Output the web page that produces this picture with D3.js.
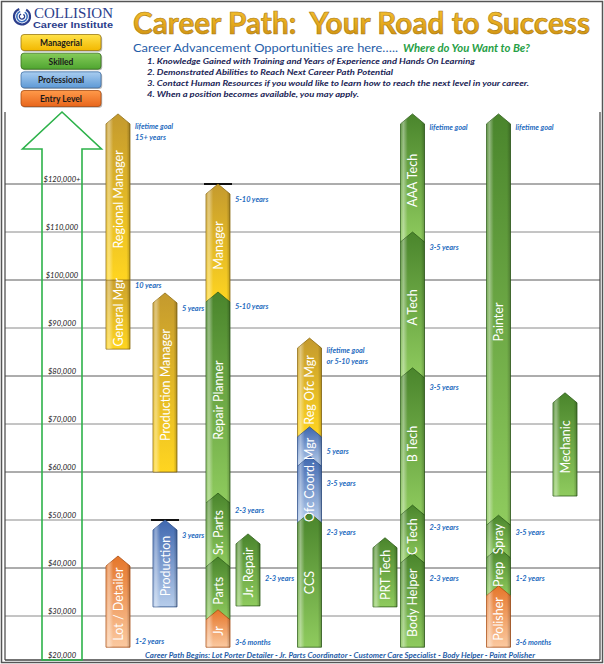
<!DOCTYPE html>
<html><head><meta charset="utf-8">
<script src="https://cdn.jsdelivr.net/npm/d3@7/dist/d3.min.js"></script>
<style>body{margin:0;background:#fff;} svg{display:block;}</style>
</head><body>
<svg id="c" width="604" height="664"></svg>
<script>
// ---------------- DATA ----------------
const levels = ["Managerial", "Skilled", "Professional", "Entry Level"];
const salaryTicks = [20000, 30000, 40000, 50000, 60000, 70000, 80000, 90000, 100000, 110000, 120000];
const tickLabels = ["$20,000", "$30,000", "$40,000", "$50,000", "$60,000", "$70,000", "$80,000", "$90,000", "$100,000", "$110,000", "$120,000+"];

const jobs      = ["General Mgr", "Regional Manager", "Production Manager", "Production", "Lot / Detailer",
                   "Manager", "Repair Planner", "Sr. Parts", "Parts", "Jr",
                   "Jr. Repair", "Reg Ofc Mgr", "Mgr", "Ofc Coord.", "CCS", "PRT Tech",
                   "AAA Tech", "A Tech", "B Tech", "C Tech", "Body Helper",
                   "Painter", "Spray", "Prep", "Polisher", "Mechanic"];
const jobLevel  = ["Managerial", "Managerial", "Managerial", "Professional", "Entry Level",
                   "Managerial", "Skilled", "Skilled", "Skilled", "Entry Level",
                   "Skilled", "Managerial", "Professional", "Professional", "Skilled", "Skilled",
                   "Skilled", "Skilled", "Skilled", "Skilled", "Skilled",
                   "Skilled", "Skilled", "Skilled", "Entry Level", "Skilled"];
const jobColumn = ["c1", "c1", "c2", "c2", "c1",
                   "c3", "c3", "c3", "c3", "c3",
                   "c4", "c5", "c5", "c5", "c5", "c6",
                   "c7", "c7", "c7", "c7", "c7",
                   "c8", "c8", "c8", "c8", "c9"];
const jobFrom   = [85600, 100000, 60000, 31900, 23500,
                   97500, 55600, 42300, 31300, 23500,
                   32100, 69400, 63300, 51500, 23500, 31900,
                   110000, 81700, 53100, 43100, 23500,
                   51000, 44200, 36300, 23500, 55000];
const jobTo     = [102000, 134600, 97300, 50000, 42500,
                   120000, 97500, 55600, 42300, 31300,
                   47100, 87900, 69400, 63300, 51500, 46300,
                   134600, 110000, 81700, 53100, 43100,
                   134600, 51000, 44200, 36300, 76500];

const noteText   = ["lifetime goal", "15+ years", "10 years", "5 years", "3 years", "1-2 years",
                    "5-10 years", "5-10 years", "2-3 years", "3-6 months", "2-3 years",
                    "lifetime goal", "or 5-10 years", "5 years", "3-5 years", "2-3 years",
                    "lifetime goal", "3-5 years", "3-5 years", "2-3 years", "2-3 years",
                    "lifetime goal", "3-5 years", "1-2 years", "3-6 months"];
const noteColumn = ["c1", "c1", "c1", "c2", "c2", "c1",
                    "c3", "c3", "c3", "c3", "c4",
                    "c5", "c5", "c5", "c5", "c5",
                    "c7", "c7", "c7", "c7", "c7",
                    "c8", "c8", "c8", "c8"];
const noteSalary = [131900, 129800, 98800, 94000, 46700, 24800,
                    116700, 94400, 52100, 24400, 37900,
                    85400, 83100, 64200, 57700, 47500,
                    131700, 106700, 77700, 48500, 37900,
                    131700, 47500, 37900, 24400];

const titleText = "Career Path:  Your Road to Success";
const subHeadA = "Career Advancement Opportunities are here…..";
const subHeadB = "Where do You Want to Be?";
const steps = [
  "1. Knowledge Gained with Training and Years of Experience and Hands On Learning",
  "2. Demonstrated Abilities to Reach Next Career Path Potential",
  "3. Contact Human Resources if you would like to learn how to reach the next level in your career.",
  "4. When a position becomes available, you may apply."
];
const footerText = "Career Path Begins: Lot Porter Detailer - Jr. Parts Coordinator - Customer Care Specialist - Body Helper - Paint Polisher";

// ---------------- LAYOUT / STYLE ----------------
const svg = d3.select("#c");
const defs = svg.append("defs");
const W = 604, H = 664;
const y = d3.scaleLinear().domain([20000, 120000]).range([664, 184]);
const columns = ["c1","c2","c3","c4","c5","c6","c7","c8","c9"];
const x = d3.scaleOrdinal().domain(columns).range([118, 165, 218, 248, 309.5, 385, 412.5, 498.5, 565]);
const levelStyle = d3.scaleOrdinal().domain(levels).range([
  {top:"#C49A2E", bot:"#FFD520", edge:"#8E6C12", legend:["#FFE24A","#F2B800"], lborder:"#9C7A10"},
  {top:"#4A852C", bot:"#8FCB5E", edge:"#2F5E1A", legend:["#86CC5A","#4FA530"], lborder:"#3A7020"},
  {top:"#3F68B0", bot:"#B7CDEB", edge:"#2A4C88", legend:["#A9CDF0","#5E9AD6"], lborder:"#3F6FA5"},
  {top:"#E5762A", bot:"#FBC9A0", edge:"#A84E14", legend:["#FF9A4A","#E8661C"], lborder:"#A84A10"}
]);
const levelId = d3.scaleOrdinal().domain(levels).range(["mg","sk","pr","en"]);

levels.forEach(l => {
  const s = levelStyle(l);
  const g = defs.append("linearGradient").attr("id","g-"+levelId(l)).attr("x1",0).attr("y1",0).attr("x2",0).attr("y2",1);
  g.append("stop").attr("offset","0%").attr("stop-color",s.top);
  g.append("stop").attr("offset","100%").attr("stop-color",s.bot);
  const lg = defs.append("linearGradient").attr("id","lg-"+levelId(l)).attr("x1",0).attr("y1",0).attr("x2",0).attr("y2",1);
  lg.append("stop").attr("offset","0%").attr("stop-color",s.legend[0]);
  lg.append("stop").attr("offset","100%").attr("stop-color",s.legend[1]);
});
const sheen = defs.append("linearGradient").attr("id","sheen").attr("x1",0).attr("y1",0).attr("x2",1).attr("y2",0);
sheen.append("stop").attr("offset","0%").attr("stop-color","#fff").attr("stop-opacity",0.10);
sheen.append("stop").attr("offset","12%").attr("stop-color","#fff").attr("stop-opacity",0.40);
sheen.append("stop").attr("offset","30%").attr("stop-color","#fff").attr("stop-opacity",0.0);
sheen.append("stop").attr("offset","85%").attr("stop-color","#000").attr("stop-opacity",0.0);
sheen.append("stop").attr("offset","100%").attr("stop-color","#000").attr("stop-opacity",0.22);
const tg = defs.append("linearGradient").attr("id","titleG").attr("x1",0).attr("y1",0).attr("x2",0).attr("y2",1);
tg.append("stop").attr("offset","0%").attr("stop-color","#F6C83A");
tg.append("stop").attr("offset","55%").attr("stop-color","#E6A91C");
tg.append("stop").attr("offset","100%").attr("stop-color","#C98E12");

// outer frame
svg.append("rect").attr("x",1.5).attr("y",1.5).attr("width",W-3).attr("height",H-3)
  .attr("fill","none").attr("stroke","#555").attr("stroke-width",1.5);

// ---- logo ----
const logo = svg.append("g");
[[8,"#2C3E8C",2.2],[5.2,"#3A6FC0",1.6],[2.6,"#2C3E8C",1.4]].forEach(([r,c,w]) => {
  const arc = d3.arc().innerRadius(r - w/2).outerRadius(r + w/2).startAngle(0.55).endAngle(2*Math.PI - 0.35);
  logo.append("path").attr("d", arc()).attr("transform","translate(22,16.5)").attr("fill",c);
});
logo.append("text").attr("x",34).attr("y",18).text("COLLISION")
  .attr("font-family","Liberation Serif, DejaVu Serif, serif").attr("font-size",14.5)
  .attr("fill","#2C3E8C").attr("textLength",79).attr("lengthAdjust","spacingAndGlyphs");
logo.append("text").attr("x",33).attr("y",27.5).text("Career Institute")
  .attr("font-family","Liberation Sans, Arial, sans-serif").attr("font-weight","bold").attr("font-size",9)
  .attr("fill","#2C3E8C").attr("textLength",80).attr("lengthAdjust","spacingAndGlyphs");

// ---- legend ----
const legendY = d3.scalePoint().domain(levels).range([42.5, 98.5]);
const leg = svg.append("g").selectAll("g").data(levels).join("g")
  .attr("transform", d => `translate(21,${legendY(d) - 8})`);
leg.append("rect").attr("x",1.2).attr("y",1.2).attr("width",80).attr("height",16).attr("rx",3)
  .attr("fill","#8a8a8a").attr("opacity",0.6);
leg.append("rect").attr("width",80).attr("height",16).attr("rx",3)
  .attr("fill", d => `url(#lg-${levelId(d)})`).attr("stroke", d => levelStyle(d).lborder).attr("stroke-width",0.8);
leg.append("text").attr("x",40).attr("y",11.5).attr("text-anchor","middle").text(d => d)
  .attr("font-family","Lato, sans-serif").attr("font-weight","bold").attr("font-size",8.5).attr("fill","#1a1a1a");

// ---- title & header text ----
svg.append("text").attr("x",133).attr("y",33.5).text(titleText)
  .attr("font-family","Lato, sans-serif").attr("font-weight","bold").attr("font-size",30)
  .attr("fill","url(#titleG)").attr("stroke","#A87812").attr("stroke-width",0.6)
  .attr("textLength",457).attr("lengthAdjust","spacingAndGlyphs").attr("xml:space","preserve");
svg.append("text").attr("x",133).attr("y",51.5).text(subHeadA)
  .attr("font-family","Lato, sans-serif").attr("font-size",12).attr("fill","#1F5DA8")
  .attr("textLength",265).attr("lengthAdjust","spacingAndGlyphs");
svg.append("text").attr("x",403).attr("y",51.5).text(subHeadB)
  .attr("font-family","Lato, sans-serif").attr("font-style","italic").attr("font-weight","bold").attr("font-size",12)
  .attr("fill","#27A046").attr("textLength",127).attr("lengthAdjust","spacingAndGlyphs");
const stepEnds = [475, 393, 529, 359];
svg.append("g").selectAll("text").data(steps).join("text")
  .attr("x",147).attr("y",(d,i) => 63.5 + i*11).text(d => d)
  .attr("font-family","Lato, sans-serif").attr("font-style","italic").attr("font-weight","bold").attr("font-size",8.3)
  .attr("fill","#1B2556").attr("textLength",(d,i) => stepEnds[i]-147).attr("lengthAdjust","spacingAndGlyphs");

// ---- grid & axis ----
const plotL = 5, plotR = 600, plotB = 660;
svg.append("g").selectAll("line").data(salaryTicks.filter(v => v > 20000)).join("line")
  .attr("x1",plotL).attr("x2",plotR).attr("y1",d => y(d)).attr("y2",d => y(d))
  .attr("stroke", (d) => (d % 20000 === 0) ? "#5a5a5a" : "#8a8a8a").attr("stroke-width",1);
svg.append("line").attr("x1",plotL).attr("x2",plotR).attr("y1",plotB).attr("y2",plotB).attr("stroke","#444").attr("stroke-width",1.5);
svg.append("line").attr("x1",plotL).attr("x2",plotL).attr("y1",112).attr("y2",plotB).attr("stroke","#444").attr("stroke-width",1.2);
svg.append("line").attr("x1",plotR).attr("x2",plotR).attr("y1",112).attr("y2",plotB).attr("stroke","#444").attr("stroke-width",1.2);

// big outline arrow
const ax = 62, shaftW = 40, headW = 79;
const yTop = 112, yHead = 149;
svg.append("path").attr("d", d3.line()([
  [ax - shaftW/2, plotB], [ax - shaftW/2, yHead], [ax - headW/2, yHead], [ax, yTop],
  [ax + headW/2, yHead], [ax + shaftW/2, yHead], [ax + shaftW/2, plotB]
]) + "Z").attr("fill","none").attr("stroke","#2DB24A").attr("stroke-width",1.6);

svg.append("g").selectAll("text").data(salaryTicks).join("text")
  .attr("x",ax).attr("y",d => Math.min(y(d) - 2.5, 658)).attr("text-anchor","middle")
  .text((d,i) => tickLabels[i])
  .attr("font-family","Lato, sans-serif").attr("font-style","italic").attr("font-size",7.6).attr("fill","#222");

// ---- career arrows ----
const AW = 24, TIP = 10;
const rows = jobs.map((name,i) => ({name, level: jobLevel[i], col: jobColumn[i], from: jobFrom[i], to: jobTo[i]}));
rows.forEach(r => {
  const below = rows.find(o => o !== r && o.col === r.col && o.to === r.from);
  r.yTip = y(r.to);
  r.yBot = y(r.from) + (below ? TIP : 0);
  r.hasAbove = rows.some(o => o !== r && o.col === r.col && o.from === r.to);
});
const arrowPath = r => {
  const cx = x(r.col), x0 = cx - AW/2, x1 = cx + AW/2;
  return `M${x0},${r.yBot}L${x0},${r.yTip + TIP}L${cx},${r.yTip}L${x1},${r.yTip + TIP}L${x1},${r.yBot}Z`;
};
const ag = svg.append("g").selectAll("g").data(rows).join("g");
// caps on tips sitting exactly on a grid line
ag.filter(r => !r.hasAbove && r.to % 10000 === 0).append("line")
  .attr("x1", r => x(r.col) - AW/2 - 2).attr("x2", r => x(r.col) + AW/2 + 2)
  .attr("y1", r => r.yTip).attr("y2", r => r.yTip).attr("stroke","#111").attr("stroke-width",2);
ag.append("path").attr("d", arrowPath)
  .attr("fill", r => `url(#g-${levelId(r.level)})`)
  .attr("stroke", r => levelStyle(r.level).edge).attr("stroke-width",0.8).attr("stroke-linejoin","round");
ag.append("path").attr("d", arrowPath).attr("fill","url(#sheen)");
// labels in a layer above all arrows
svg.append("g").selectAll("text").data(rows).join("text")
  .attr("transform", r => `translate(${x(r.col) + 4.5},${(r.yTip + TIP/2 + r.yBot)/2}) rotate(-90)`)
  .attr("text-anchor","middle").text(r => r.name)
  .attr("font-family","Lato, sans-serif").attr("font-size",12.5).attr("fill","#fff");

// ---- duration notes ----
svg.append("g").selectAll("text").data(noteText).join("text")
  .attr("x",(d,i) => x(noteColumn[i]) + AW/2 + 5).attr("y",(d,i) => y(noteSalary[i]) + 2.6)
  .text(d => d)
  .attr("font-family","Lato, sans-serif").attr("font-style","italic").attr("font-weight","bold")
  .attr("font-size",7.4).attr("fill","#1F6CC0");

// ---- footer ----
svg.append("text").attr("x",145).attr("y",657.5).text(footerText)
  .attr("font-family","Lato, sans-serif").attr("font-style","italic").attr("font-weight","bold")
  .attr("font-size",7.4).attr("fill","#1F5DA8").attr("textLength",390).attr("lengthAdjust","spacingAndGlyphs");
</script>
</body></html>
